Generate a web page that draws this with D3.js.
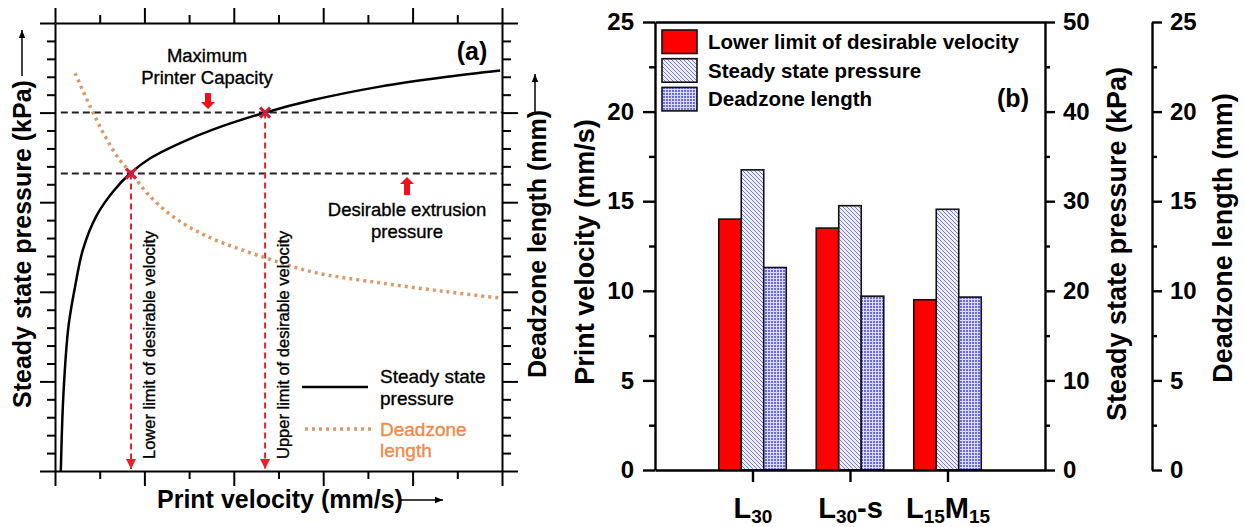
<!DOCTYPE html>
<html>
<head>
<meta charset="utf-8">
<script src="https://cdn.jsdelivr.net/npm/d3@7"></script>
<style>
  body { margin: 0; background: #fff; }
  svg { display: block; font-family: "Liberation Sans", Arial, sans-serif; }
  .ax path, .ax line { stroke: #000; stroke-width: 2; }
  .axb path, .axb line { stroke: #000; stroke-width: 2.4; }
  .axb text { font-size: 24px; font-weight: bold; fill: #000; }
  .reg { stroke-width: 0.35px; }
</style>
</head>
<body>
<svg id="chart" width="1245" height="527"></svg>
<script>
// Panel (a): curves (arbitrary units, no tick labels)
var pressureV = [0.13, 0.19, 0.30, 0.45, 0.63, 0.93, 1.30, 1.68, 2.13, 2.80, 3.53, 4.70, 5.77, 7.27, 8.77, 9.96];
var pressureP = [0, 4.35, 8.04, 10.3, 12.4, 14.25, 15.6, 16.6, 17.45, 18.3, 19.05, 20.0, 20.7, 21.45, 22.0, 22.35];
var deadzoneV = [0.45, 0.85, 1.16, 1.45, 1.72, 2.06, 2.64, 3.40, 4.70, 5.77, 7.27, 8.77, 9.96];
var deadzoneL = [22.2, 20.0, 18.5, 17.35, 16.6, 15.5, 14.2, 13.1, 11.9, 11.1, 10.5, 10.0, 9.65];
var limitV = [1.7, 4.7];        // lower / upper limit of desirable velocity
var limitP = [16.6, 20.0];      // desirable / maximum pressure

// Panel (b): bar values
var categories = ['L30', 'L30-s', 'L15M15'];
var lowerVelocity = [14.0, 13.5, 9.5];     // mm/s
var steadyPressure = [33.5, 29.5, 29.1];   // kPa
var deadzoneLength = [11.3, 9.7, 9.65];    // mm
var velTicks = [0, 5, 10, 15, 20, 25];
var presTicks = [0, 10, 20, 30, 40, 50];
var dzTicks = [0, 5, 10, 15, 20, 25];

var svg = d3.select('#chart');
var defs = svg.append('defs');

// Hatch patterns.
var hatch = defs.append('pattern').attr('id', 'hatch')
    .attr('patternUnits', 'userSpaceOnUse').attr('width', 4).attr('height', 4);
hatch.append('rect').attr('width', 4).attr('height', 4).attr('fill', '#ececfb');
hatch.append('path').attr('d', 'M-1,-1L5,5M-1,3L1,5M3,-1L5,1')
    .attr('stroke', '#7c7cc8').attr('stroke-width', 1);

var dots = defs.append('pattern').attr('id', 'dots')
    .attr('patternUnits', 'userSpaceOnUse').attr('width', 3).attr('height', 3);
dots.append('rect').attr('width', 3).attr('height', 3).attr('fill', '#dcdcff');
dots.append('rect').attr('width', 2).attr('height', 2).attr('fill', '#6a6ae6');

defs.append('marker').attr('id', 'redhead')
    .attr('viewBox', '0 0 10 10').attr('refX', 10).attr('refY', 5)
    .attr('markerWidth', 10).attr('markerHeight', 10).attr('markerUnits', 'userSpaceOnUse')
    .attr('orient', 'auto')
    .append('path').attr('d', 'M0,0L10,5L0,10Z').attr('fill', '#e8202a');

defs.append('marker').attr('id', 'blackhead')
    .attr('viewBox', '0 0 10 10').attr('refX', 10).attr('refY', 5)
    .attr('markerWidth', 8).attr('markerHeight', 8).attr('markerUnits', 'userSpaceOnUse')
    .attr('orient', 'auto')
    .append('path').attr('d', 'M0,1L10,5L0,9Z').attr('fill', '#000');

// ---------------- Panel (a) ----------------
var xA = d3.scaleLinear().domain([0, 10]).range([55, 502]);
var yA = d3.scaleLinear().domain([0, 25]).range([471, 23]);

var aMajX = [0, 2, 4, 6, 8, 10], aMinX = [1, 3, 5, 7, 9];
var aMajY = [0, 5, 10, 15, 20, 25], aMinY = d3.range(0, 26).filter(function(d) { return d % 5; });

function addAxis(cls, axis, tx, ty, noDomain) {
    var g = svg.append('g').attr('class', cls)
        .attr('transform', 'translate(' + tx + ',' + ty + ')').call(axis);
    if (noDomain) g.select('.domain').remove();
    return g;
}

addAxis('ax', d3.axisBottom(xA).tickValues(aMajX).tickSize(15).tickSizeOuter(0).tickFormat(''), 0, 471);
addAxis('ax', d3.axisBottom(xA).tickValues(aMinX).tickSize(8).tickFormat(''), 0, 471, true);
addAxis('ax', d3.axisTop(xA).tickValues(aMajX).tickSize(15).tickSizeOuter(0).tickFormat(''), 0, 23);
addAxis('ax', d3.axisTop(xA).tickValues(aMinX).tickSize(8).tickFormat(''), 0, 23, true);
addAxis('ax', d3.axisLeft(yA).tickValues(aMajY).tickSize(15).tickSizeOuter(0).tickFormat(''), 55, 0);
addAxis('ax', d3.axisLeft(yA).tickValues(aMinY).tickSize(8).tickFormat(''), 55, 0, true);
addAxis('ax', d3.axisRight(yA).tickValues(aMajY).tickSize(16).tickSizeOuter(0).tickFormat(''), 502, 0);
addAxis('ax', d3.axisRight(yA).tickValues(aMinY).tickSize(9).tickFormat(''), 502, 0, true);

// Reference lines.
limitP.forEach(function(p) {
    svg.append('line')
        .attr('x1', xA(0.13)).attr('x2', xA(10)).attr('y1', yA(p)).attr('y2', yA(p))
        .attr('stroke', '#222').attr('stroke-width', 2).attr('stroke-dasharray', '7,4');
});
limitV.forEach(function(v, i) {
    svg.append('line')
        .attr('x1', xA(v)).attr('x2', xA(v)).attr('y1', yA(limitP[i])).attr('y2', yA(0) - 2)
        .attr('stroke', '#e8202a').attr('stroke-width', 2).attr('stroke-dasharray', '6,4')
        .attr('marker-end', 'url(#redhead)');
});

var lineA = d3.line().curve(d3.curveCatmullRom.alpha(0.5))
    .x(function(d) { return xA(d[0]); }).y(function(d) { return yA(d[1]); });

svg.append('path')
    .attr('d', lineA(d3.zip(deadzoneV, deadzoneL)))
    .attr('fill', 'none').attr('stroke', '#d99a6c').attr('stroke-width', 3.5)
    .attr('stroke-dasharray', '3,4');

svg.append('path')
    .attr('d', lineA(d3.zip(pressureV, pressureP)))
    .attr('fill', 'none').attr('stroke', '#000').attr('stroke-width', 2.5);

limitV.forEach(function(v, i) {
    svg.append('path')
        .attr('transform', 'translate(' + xA(v) + ',' + yA(limitP[i]) + ')')
        .attr('d', 'M-5,-5L5,5M-5,5L5,-5')
        .attr('stroke', '#c8203c').attr('stroke-width', 3.2);
});

// Block arrows.
function blockArrow(x, yTail, yTip) {
    var dir = yTip > yTail ? 1 : -1;
    var yNeck = yTip - dir * 7;
    svg.append('path')
        .attr('d', 'M' + (x - 3) + ',' + yTail + 'L' + (x + 3) + ',' + yTail + 'L' + (x + 3) + ',' + yNeck +
            'L' + (x + 7) + ',' + yNeck + 'L' + x + ',' + yTip + 'L' + (x - 7) + ',' + yNeck +
            'L' + (x - 3) + ',' + yNeck + 'Z')
        .attr('fill', '#f0101a');
}
blockArrow(208, 93, 109);
blockArrow(407, 195, 177);

// Texts in panel (a).
function txt(x, y, s, size, weight, anchor, fill) {
    var t = svg.append('text').attr('x', x).attr('y', y).text(s)
        .style('font-size', size + 'px').style('font-weight', weight || 'normal')
        .attr('text-anchor', anchor || 'start').attr('fill', fill || '#000');
    if (!weight || weight === 'normal') t.attr('class', 'reg').attr('stroke', fill || '#000');
    return t;
}
txt(207, 62, 'Maximum', 18.5, 'normal', 'middle');
txt(207, 84, 'Printer Capacity', 18.5, 'normal', 'middle');
txt(407, 216, 'Desirable extrusion', 18.5, 'normal', 'middle');
txt(407, 238, 'pressure', 18.5, 'normal', 'middle');
txt(472, 60, '(a)', 25, 'bold', 'middle');

svg.append('text').attr('transform', 'translate(155,459) rotate(-90)').attr('class', 'reg').attr('stroke', '#000')
    .text('Lower limit of desirable velocity').style('font-size', '16.5px');
svg.append('text').attr('transform', 'translate(289,459) rotate(-90)').attr('class', 'reg').attr('stroke', '#000')
    .text('Upper limit of desirable velocity').style('font-size', '16.5px');

// Legend (a).
svg.append('line').attr('x1', 302).attr('x2', 368).attr('y1', 387).attr('y2', 387)
    .attr('stroke', '#000').attr('stroke-width', 2.5);
svg.append('line').attr('x1', 305).attr('x2', 372).attr('y1', 429).attr('y2', 429)
    .attr('stroke', '#d99a6c').attr('stroke-width', 3.5).attr('stroke-dasharray', '3,4');
txt(380, 383, 'Steady state', 19);
txt(380, 405, 'pressure', 19);
txt(380, 436, 'Deadzone', 19, 'normal', 'start', '#ec8a48');
txt(380, 457, 'length', 19, 'normal', 'start', '#ec8a48');

// Axis titles (a).
svg.append('text').attr('transform', 'translate(31,408) rotate(-90)')
    .text('Steady state pressure (kPa)').style('font-size', '25px').style('font-weight', 'bold');
svg.append('line').attr('x1', 22).attr('x2', 22).attr('y1', 76).attr('y2', 30)
    .attr('stroke', '#000').attr('stroke-width', 1.5).attr('marker-end', 'url(#blackhead)');
txt(157, 508, 'Print velocity (mm/s)', 25, 'bold');
svg.append('line').attr('x1', 400).attr('x2', 443).attr('y1', 500).attr('y2', 500)
    .attr('stroke', '#000').attr('stroke-width', 1.5).attr('marker-end', 'url(#blackhead)');
svg.append('text').attr('transform', 'translate(546,378) rotate(-90)')
    .text('Deadzone length (mm)').style('font-size', '25px').style('font-weight', 'bold');
svg.append('line').attr('x1', 535).attr('x2', 535).attr('y1', 112).attr('y2', 74)
    .attr('stroke', '#000').attr('stroke-width', 1.5).attr('marker-end', 'url(#blackhead)');

// ---------------- Panel (b) ----------------
var xB = d3.scalePoint().domain(categories).range([655, 1045]).padding(1);
var yV = d3.scaleLinear().domain([0, 25]).range([470, 22]);
var yP = d3.scaleLinear().domain([0, 50]).range([470, 22]);
var yD = d3.scaleLinear().domain([0, 25]).range([470, 22]);
var bw = 22.5;

var series = [
    { values: lowerVelocity, scale: yV, fill: '#ff0000', off: -1.5 },
    { values: steadyPressure, scale: yP, fill: 'url(#hatch)', off: -0.5 },
    { values: deadzoneLength, scale: yD, fill: 'url(#dots)', off: 0.5 }
];
series.forEach(function(s) {
    svg.append('g').selectAll('rect')
        .data(s.values)
        .enter()
        .append('rect')
        .attr('x', function(d, i) { return xB(categories[i]) + s.off * bw; })
        .attr('y', function(d) { return s.scale(d); })
        .attr('width', bw)
        .attr('height', function(d) { return s.scale(0) - s.scale(d); })
        .attr('fill', s.fill).attr('stroke', '#111').attr('stroke-width', 1.6);
});

function mids(ticks) {
    var out = [];
    for (var i = 0; i < ticks.length - 1; i++) out.push((ticks[i] + ticks[i + 1]) / 2);
    return out;
}

addAxis('axb', d3.axisLeft(yV).tickValues(velTicks).tickSize(12).tickPadding(9).tickSizeOuter(0), 655, 0);
addAxis('axb', d3.axisLeft(yV).tickValues(mids(velTicks)).tickSize(6).tickFormat(''), 655, 0, true);
addAxis('axb', d3.axisTop(xB).tickValues([]).tickSizeOuter(0), 0, 22);
var bottomB = addAxis('axb', d3.axisBottom(xB).tickSize(12).tickSizeOuter(0).tickFormat(''), 0, 470);
addAxis('axb', d3.axisRight(yP).tickValues(presTicks).tickSize(10).tickPadding(8).tickSizeOuter(0), 1045, 0);
addAxis('axb', d3.axisRight(yP).tickValues(mids(presTicks)).tickSize(5).tickFormat(''), 1045, 0, true);
addAxis('axb', d3.axisRight(yD).tickValues(dzTicks).tickSize(10).tickPadding(8).tickSizeOuter(0), 1152, 0);
addAxis('axb', d3.axisRight(yD).tickValues(mids(dzTicks)).tickSize(5).tickFormat(''), 1152, 0, true);

// Category labels with subscripts.
var catParts = {
    'L30': [['L', 0], ['30', 1]],
    'L30-s': [['L', 0], ['30', 1], ['-s', 0]],
    'L15M15': [['L', 0], ['15', 1], ['M', 0], ['15', 1]]
};
bottomB.selectAll('.tick').each(function(c) {
    var t = d3.select(this).append('text')
        .attr('y', 48).attr('text-anchor', 'middle')
        .style('font-size', '29px').style('font-weight', 'bold').attr('fill', '#000');
    var prevSub = 0;
    catParts[c].forEach(function(p) {
        t.append('tspan').text(p[0])
            .style('font-size', p[1] ? '19px' : '29px')
            .attr('dy', (p[1] - prevSub) * 5);
        prevSub = p[1];
    });
});

// Legend (b).
var legendItems = [
    { label: 'Lower limit of desirable velocity', fill: '#ff0000' },
    { label: 'Steady state pressure', fill: 'url(#hatch)' },
    { label: 'Deadzone length', fill: 'url(#dots)' }
];
legendItems.forEach(function(d, i) {
    svg.append('rect').attr('x', 662).attr('y', 30 + i * 28.7).attr('width', 35).attr('height', 23.5)
        .attr('fill', d.fill).attr('stroke', '#111').attr('stroke-width', 1.6);
    txt(708, 49 + i * 28.7, d.label, 20.5, 'bold');
});
txt(1013, 107, '(b)', 25, 'bold', 'middle');

// Axis titles (b).
svg.append('text').attr('transform', 'translate(594,252) rotate(-90)').attr('text-anchor', 'middle')
    .text('Print velocity (mm/s)').style('font-size', '27px').style('font-weight', 'bold');
svg.append('text').attr('transform', 'translate(1126,244) rotate(-90)').attr('text-anchor', 'middle')
    .text('Steady state pressure (kPa)').style('font-size', '27px').style('font-weight', 'bold');
svg.append('text').attr('transform', 'translate(1232,238) rotate(-90)').attr('text-anchor', 'middle')
    .text('Deadzone length (mm)').style('font-size', '27px').style('font-weight', 'bold');
</script>
</body>
</html>
